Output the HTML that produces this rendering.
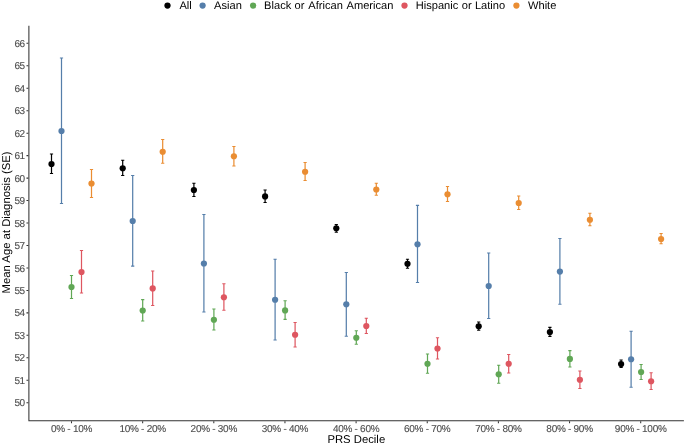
<!DOCTYPE html>
<html lang="en">
<head>
<meta charset="utf-8">
<title>Mean Age at Diagnosis by PRS Decile</title>
<style>
html,body{margin:0;padding:0;background:#fff;}
body{width:685px;height:445px;overflow:hidden;}
svg{display:block;text-rendering:geometricPrecision;font-family:"Liberation Sans",Arial,Helvetica,sans-serif;}
.tick{font-size:10px;fill:#4D4D4D;stroke:#4D4D4D;stroke-width:0.12px;}
.ttl{font-size:11.3px;fill:#000;}
.leg{font-size:11.1px;fill:#000;}
</style>
</head>
<body>
<svg width="685" height="445" viewBox="0 0 685 445">
<rect width="685" height="445" fill="#fff"/>
<g>
<circle cx="167.50" cy="5.6" r="3.12" fill="#000000"/><text class="leg" y="9.1"><tspan x="179.40">All</tspan></text>
<circle cx="202.60" cy="5.6" r="3.12" fill="#557EAA"/><text class="leg" y="9.1"><tspan x="214.10">Asian</tspan></text>
<circle cx="253.10" cy="5.6" r="3.12" fill="#60A755"/><text class="leg" y="9.1"><tspan x="264.10">Black</tspan> <tspan x="294.60">or</tspan> <tspan x="308.30">African</tspan> <tspan x="346.50">American</tspan></text>
<circle cx="404.50" cy="5.6" r="3.12" fill="#DE5660"/><text class="leg" y="9.1"><tspan x="415.70">Hispanic</tspan> <tspan x="461.80">or</tspan> <tspan x="474.90">Latino</tspan></text>
<circle cx="516.40" cy="5.6" r="3.12" fill="#EA8D32"/><text class="leg" y="9.1"><tspan x="528.00">White</tspan></text>
</g>
<g stroke="#333333" stroke-width="1.05" fill="none">
<path d="M28.89 25.70V420.72H683.9"/>
<path d="M28.37 402.70h-1.9M28.37 380.24h-1.9M28.37 357.78h-1.9M28.37 335.32h-1.9M28.37 312.86h-1.9M28.37 290.40h-1.9M28.37 267.94h-1.9M28.37 245.48h-1.9M28.37 223.02h-1.9M28.37 200.56h-1.9M28.37 178.10h-1.9M28.37 155.64h-1.9M28.37 133.18h-1.9M28.37 110.72h-1.9M28.37 88.26h-1.9M28.37 65.80h-1.9M28.37 43.34h-1.9"/>
<path d="M71.50 421.25v1.9M142.65 421.25v1.9M213.80 421.25v1.9M284.95 421.25v1.9M356.10 421.25v1.9M427.25 421.25v1.9M498.40 421.25v1.9M569.55 421.25v1.9M640.70 421.25v1.9"/>
</g>
<g class="tick" text-anchor="end" letter-spacing="-0.5">
<text x="24.5" y="46.94">66</text><text x="24.5" y="69.40">65</text><text x="24.5" y="91.86">64</text><text x="24.5" y="114.32">63</text><text x="24.5" y="136.78">62</text><text x="24.5" y="159.24">61</text><text x="24.5" y="181.70">60</text><text x="24.5" y="204.16">59</text><text x="24.5" y="226.62">58</text><text x="24.5" y="249.08">57</text><text x="24.5" y="271.54">56</text><text x="24.5" y="294.00">55</text><text x="24.5" y="316.46">54</text><text x="24.5" y="338.92">53</text><text x="24.5" y="361.38">52</text><text x="24.5" y="383.84">51</text><text x="24.5" y="406.30">50</text>
</g>
<g class="tick" text-anchor="middle" letter-spacing="-0.28">
<text x="71.50" y="431.7">0% - 10%</text><text x="142.65" y="431.7">10% - 20%</text><text x="213.80" y="431.7">20% - 30%</text><text x="284.95" y="431.7">30% - 40%</text><text x="356.10" y="431.7">40% - 60%</text><text x="427.25" y="431.7">60% - 70%</text><text x="498.40" y="431.7">70% - 80%</text><text x="569.55" y="431.7">80% - 90%</text><text x="640.70" y="431.7">90% - 100%</text>
</g>
<text class="ttl" text-anchor="middle" x="356.3" y="443.3">PRS Decile</text>
<text class="ttl" text-anchor="middle" transform="translate(9.8 222.45) rotate(-90)">Mean Age at Diagnosis (SE)</text>
<g stroke="#000000" stroke-width="1.22" fill="#000000">
<path d="M49.90 154.00h3.20M51.50 154.00V173.50M49.90 173.50h3.20M121.10 160.25h3.20M122.70 160.25V175.50M121.10 175.50h3.20M192.30 183.25h3.20M193.90 183.25V196.50M192.30 196.50h3.20M263.50 190.00h3.20M265.10 190.00V202.50M263.50 202.50h3.20M334.70 224.50h3.20M336.30 224.50V232.25M334.70 232.25h3.20M405.90 259.25h3.20M407.50 259.25V268.25M405.90 268.25h3.20M477.10 322.00h3.20M478.70 322.00V330.25M477.10 330.25h3.20M548.30 327.40h3.20M549.90 327.40V336.40M548.30 336.40h3.20M619.50 360.00h3.20M621.10 360.00V367.50M619.50 367.50h3.20" fill="none"/>
<circle cx="51.50" cy="164.00" r="3.12" stroke="none"/><circle cx="122.70" cy="168.25" r="3.12" stroke="none"/><circle cx="193.90" cy="190.00" r="3.12" stroke="none"/><circle cx="265.10" cy="196.40" r="3.12" stroke="none"/><circle cx="336.30" cy="228.25" r="3.12" stroke="none"/><circle cx="407.50" cy="263.75" r="3.12" stroke="none"/><circle cx="478.70" cy="326.25" r="3.12" stroke="none"/><circle cx="549.90" cy="332.00" r="3.12" stroke="none"/><circle cx="621.10" cy="364.00" r="3.12" stroke="none"/>
</g>
<g stroke="#557EAA" stroke-width="1.22" fill="#557EAA">
<path d="M59.90 58.00h3.20M61.50 58.00V203.50M59.90 203.50h3.20M131.10 175.50h3.20M132.70 175.50V266.10M131.10 266.10h3.20M202.30 214.50h3.20M203.90 214.50V312.00M202.30 312.00h3.20M273.50 259.25h3.20M275.10 259.25V340.00M273.50 340.00h3.20M344.70 272.50h3.20M346.30 272.50V336.25M344.70 336.25h3.20M415.90 205.40h3.20M417.50 205.40V282.50M415.90 282.50h3.20M487.10 253.00h3.20M488.70 253.00V318.50M487.10 318.50h3.20M558.30 238.50h3.20M559.90 238.50V304.25M558.30 304.25h3.20M629.50 331.25h3.20M631.10 331.25V387.25M629.50 387.25h3.20" fill="none"/>
<circle cx="61.50" cy="131.00" r="3.12" stroke="none"/><circle cx="132.70" cy="221.00" r="3.12" stroke="none"/><circle cx="203.90" cy="263.50" r="3.12" stroke="none"/><circle cx="275.10" cy="299.75" r="3.12" stroke="none"/><circle cx="346.30" cy="304.25" r="3.12" stroke="none"/><circle cx="417.50" cy="244.25" r="3.12" stroke="none"/><circle cx="488.70" cy="286.00" r="3.12" stroke="none"/><circle cx="559.90" cy="271.60" r="3.12" stroke="none"/><circle cx="631.10" cy="359.25" r="3.12" stroke="none"/>
</g>
<g stroke="#60A755" stroke-width="1.22" fill="#60A755">
<path d="M69.90 275.50h3.20M71.50 275.50V298.50M69.90 298.50h3.20M141.10 299.60h3.20M142.70 299.60V321.00M141.10 321.00h3.20M212.30 309.00h3.20M213.90 309.00V330.00M212.30 330.00h3.20M283.50 300.75h3.20M285.10 300.75V319.40M283.50 319.40h3.20M354.70 330.75h3.20M356.30 330.75V344.25M354.70 344.25h3.20M425.90 354.00h3.20M427.50 354.00V373.25M425.90 373.25h3.20M497.10 365.25h3.20M498.70 365.25V383.25M497.10 383.25h3.20M568.30 350.60h3.20M569.90 350.60V367.00M568.30 367.00h3.20M639.50 364.50h3.20M641.10 364.50V379.50M639.50 379.50h3.20" fill="none"/>
<circle cx="71.50" cy="287.00" r="3.12" stroke="none"/><circle cx="142.70" cy="310.50" r="3.12" stroke="none"/><circle cx="213.90" cy="319.75" r="3.12" stroke="none"/><circle cx="285.10" cy="310.40" r="3.12" stroke="none"/><circle cx="356.30" cy="337.75" r="3.12" stroke="none"/><circle cx="427.50" cy="363.75" r="3.12" stroke="none"/><circle cx="498.70" cy="374.25" r="3.12" stroke="none"/><circle cx="569.90" cy="358.90" r="3.12" stroke="none"/><circle cx="641.10" cy="372.00" r="3.12" stroke="none"/>
</g>
<g stroke="#DE5660" stroke-width="1.22" fill="#DE5660">
<path d="M79.90 250.50h3.20M81.50 250.50V293.00M79.90 293.00h3.20M151.10 271.00h3.20M152.70 271.00V305.50M151.10 305.50h3.20M222.30 283.75h3.20M223.90 283.75V310.25M222.30 310.25h3.20M293.50 322.50h3.20M295.10 322.50V347.00M293.50 347.00h3.20M364.70 318.25h3.20M366.30 318.25V333.50M364.70 333.50h3.20M435.90 337.75h3.20M437.50 337.75V359.00M435.90 359.00h3.20M507.10 354.50h3.20M508.70 354.50V373.00M507.10 373.00h3.20M578.30 371.00h3.20M579.90 371.00V388.50M578.30 388.50h3.20M649.50 372.75h3.20M651.10 372.75V389.50M649.50 389.50h3.20" fill="none"/>
<circle cx="81.50" cy="272.00" r="3.12" stroke="none"/><circle cx="152.70" cy="288.40" r="3.12" stroke="none"/><circle cx="223.90" cy="297.25" r="3.12" stroke="none"/><circle cx="295.10" cy="334.75" r="3.12" stroke="none"/><circle cx="366.30" cy="326.00" r="3.12" stroke="none"/><circle cx="437.50" cy="348.50" r="3.12" stroke="none"/><circle cx="508.70" cy="363.75" r="3.12" stroke="none"/><circle cx="579.90" cy="379.75" r="3.12" stroke="none"/><circle cx="651.10" cy="381.25" r="3.12" stroke="none"/>
</g>
<g stroke="#EA8D32" stroke-width="1.22" fill="#EA8D32">
<path d="M89.90 169.50h3.20M91.50 169.50V197.50M89.90 197.50h3.20M161.10 139.50h3.20M162.70 139.50V163.25M161.10 163.25h3.20M232.30 146.50h3.20M233.90 146.50V166.00M232.30 166.00h3.20M303.50 162.50h3.20M305.10 162.50V180.50M303.50 180.50h3.20M374.70 183.25h3.20M376.30 183.25V195.25M374.70 195.25h3.20M445.90 186.50h3.20M447.50 186.50V201.50M445.90 201.50h3.20M517.10 196.00h3.20M518.70 196.00V209.50M517.10 209.50h3.20M588.30 213.25h3.20M589.90 213.25V225.75M588.30 225.75h3.20M659.50 233.50h3.20M661.10 233.50V243.75M659.50 243.75h3.20" fill="none"/>
<circle cx="91.50" cy="183.50" r="3.12" stroke="none"/><circle cx="162.70" cy="151.75" r="3.12" stroke="none"/><circle cx="233.90" cy="156.25" r="3.12" stroke="none"/><circle cx="305.10" cy="171.75" r="3.12" stroke="none"/><circle cx="376.30" cy="189.50" r="3.12" stroke="none"/><circle cx="447.50" cy="194.25" r="3.12" stroke="none"/><circle cx="518.70" cy="203.00" r="3.12" stroke="none"/><circle cx="589.90" cy="219.75" r="3.12" stroke="none"/><circle cx="661.10" cy="239.00" r="3.12" stroke="none"/>
</g>
</svg>
</body>
</html>
